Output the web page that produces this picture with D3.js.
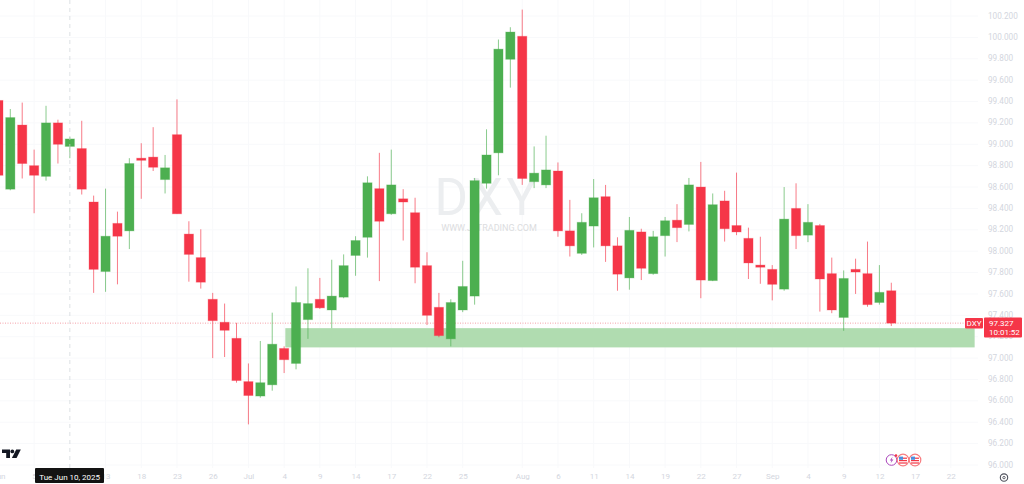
<!DOCTYPE html>
<html><head><meta charset="utf-8">
<script src="https://cdn.jsdelivr.net/npm/d3@7/dist/d3.min.js"></script>
<style>
html,body{margin:0;padding:0;background:#fff;overflow:hidden}
svg{display:block;font-family:Roboto,"Liberation Sans",sans-serif}
</style></head><body><svg id="c" width="1024" height="484"></svg>
<script>
const opens=[99.41,98.58,99.18,98.80,98.70,99.20,98.98,98.96,98.46,97.81,98.26,98.19,98.87,98.88,98.67,99.09,98.16,97.94,97.55,97.335,97.185,96.78,96.645,96.75,97.09,96.95,97.36,97.55,97.45,97.57,97.96,98.13,98.585,98.35,98.49,98.36,97.865,97.475,97.18,97.45,97.58,98.635,98.92,99.795,100.01,98.65,98.62,98.75,98.19,97.98,98.235,98.51,98.05,97.75,98.18,97.79,98.145,98.29,98.25,98.60,97.725,98.47,98.24,98.12,97.87,97.83,97.645,98.40,98.15,98.24,97.79,97.38,97.83,97.79,97.52,97.63];
const closes=[98.71,99.25,98.82,98.71,99.20,99.00,99.05,98.58,97.83,98.14,98.14,98.82,98.85,98.785,98.78,98.35,97.97,97.71,97.35,97.26,96.79,96.65,96.77,97.13,96.985,97.52,97.51,97.47,97.58,97.865,98.10,98.64,98.28,98.62,98.46,97.85,97.40,97.21,97.52,97.67,98.66,98.90,99.89,100.05,98.68,98.73,98.76,98.19,98.05,98.27,98.50,98.05,97.785,98.195,97.84,98.135,98.285,98.22,98.62,97.73,98.435,98.21,98.18,97.89,97.85,97.69,98.30,98.145,98.27,97.74,97.45,97.745,97.805,97.50,97.615,97.327];
const highs=[99.42,99.33,99.39,98.95,99.36,99.23,99.07,99.22,98.52,98.585,98.37,98.87,99.01,99.16,98.90,99.42,98.28,98.205,97.61,97.51,97.33,96.95,97.16,97.425,97.11,97.67,97.84,97.75,97.92,97.97,98.14,98.70,98.92,98.95,98.58,98.50,97.99,97.61,97.55,97.91,98.685,99.14,99.98,100.095,100.26,98.98,99.08,98.83,98.48,98.355,98.675,98.62,98.13,98.32,98.21,98.19,98.32,98.44,98.685,98.835,98.54,98.565,98.735,98.22,98.135,97.87,98.60,98.635,98.44,98.255,97.94,97.82,97.93,98.09,97.87,97.705];
const lows=[98.70,98.57,98.68,98.355,98.66,98.82,98.87,98.53,97.61,97.62,97.69,98.02,98.49,98.75,98.54,98.35,97.715,97.65,97.00,97.01,96.77,96.38,96.63,96.695,96.86,96.895,97.18,97.46,97.28,97.56,97.77,97.94,97.72,98.34,98.10,97.70,97.31,97.195,97.11,97.43,97.50,98.585,98.71,99.53,98.62,98.59,98.59,98.135,97.95,97.965,98.035,97.90,97.63,97.64,97.73,97.78,97.95,98.085,98.185,97.56,97.72,98.09,98.15,97.74,97.695,97.54,97.63,98.02,98.085,97.435,97.42,97.255,97.60,97.48,97.50,97.30];
const priceTicks=[96.0,96.2,96.4,96.6,96.8,97.0,97.2,97.4,97.6,97.8,98.0,98.2,98.4,98.6,98.8,99.0,99.2,99.4,99.6,99.8,100.0,100.2];
const timeTickIndex=[0,3,9,12,15,18,21,24,27,30,33,36,39,44,47,50,53,56,59,62,65,68,71,74,77,80];
const timeTickLabels=["Jun","5","13","18","23","26","Jul","4","9","14","17","22","25","Aug","6","11","14","19","22","27","Sep","4","9","12","17","22"];
const zoneLow=97.10, zoneHigh=97.28, zoneStartIndex=24.1, zoneEndIndex=82;
const lastPrice=97.327, countdown="10:01:52", symbol="DXY", crosshairIndex=6, crosshairLabel="Tue Jun 10, 2025";
const watermarkTitle="DXY", watermarkSub="WWW.JJTRADING.COM";

const UP="#4caf50", DOWN="#f53648", AXIS="#d3d6de";
const svg=d3.select("#c");
const y=d3.scaleLinear().domain([96,100.2]).range([465,16]);
const x=d3.scaleLinear().domain([0,75]).range([-1.6,891.3]);
const W=978;

// grid
const grid=svg.append("g").attr("stroke","#f8f9fb").attr("stroke-width",1);
grid.selectAll("line.h").data(priceTicks).join("line").attr("class","h")
 .attr("x1",0).attr("x2",W).attr("y1",d=>y(d)).attr("y2",d=>y(d));
grid.selectAll("line.v").data(timeTickIndex).join("line").attr("class","v")
 .attr("y1",0).attr("y2",468).attr("x1",d=>x(d)).attr("x2",d=>x(d));

// watermark
svg.append("text").attr("x",487.5).attr("y",215).attr("text-anchor","middle")
 .attr("font-size",51).attr("letter-spacing",3.5).attr("fill","#eceef0").attr("font-family","Roboto").text(watermarkTitle);
svg.append("text").attr("x",489).attr("y",231).attr("text-anchor","middle")
 .attr("font-size",9).attr("fill","#dcdde0").text(watermarkSub);

// zone
svg.append("rect").attr("x",x(zoneStartIndex)).attr("width",x(zoneEndIndex)-x(zoneStartIndex))
 .attr("y",y(zoneHigh)).attr("height",y(zoneLow)-y(zoneHigh)).attr("fill","#b0dcb0");

// last price line
svg.append("line").attr("x1",0).attr("x2",965).attr("y1",y(lastPrice)).attr("y2",y(lastPrice))
 .attr("stroke","#f5a0a8").attr("stroke-width",1).attr("stroke-dasharray","1 1.5");

// candles
const idx=d3.range(opens.length);
const col=i=>closes[i]>=opens[i]?UP:DOWN;
const g=svg.append("g");
g.selectAll("line.w").data(idx).join("line").attr("class","w")
 .attr("x1",i=>x(i)).attr("x2",i=>x(i)).attr("y1",i=>y(highs[i])).attr("y2",i=>y(lows[i]))
 .attr("stroke",col).attr("stroke-width",1).attr("stroke-opacity",.65);
g.selectAll("rect.b").data(idx).join("rect").attr("class","b")
 .attr("x",i=>x(i)-4.6).attr("width",9.2)
 .attr("y",i=>y(Math.max(opens[i],closes[i])))
 .attr("height",i=>Math.max(1.6,Math.abs(y(opens[i])-y(closes[i]))))
 .attr("fill",col).attr("stroke",col).attr("stroke-opacity",.3).attr("stroke-width",1);

// crosshair
svg.append("line").attr("x1",x(crosshairIndex)).attr("x2",x(crosshairIndex)).attr("y1",0).attr("y2",468)
 .attr("stroke","#cfd6da").attr("stroke-opacity",.7).attr("stroke-width",1).attr("stroke-dasharray","4 4");

// axes
const yAxis=d3.axisRight(y).tickValues(priceTicks).tickSize(0).tickPadding(0).tickFormat(d3.format(".3f"));
const yG=svg.append("g").attr("transform","translate(988,-0.8)").call(yAxis);
yG.select(".domain").remove();
yG.selectAll("text").attr("font-size",8.2).attr("fill",AXIS).attr("font-family","Roboto").attr("dy",".35em");
const xAxis=d3.axisBottom(x).tickValues(timeTickIndex).tickSize(0).tickPadding(0)
 .tickFormat(d=>timeTickLabels[timeTickIndex.indexOf(d)]);
const xG=svg.append("g").attr("transform","translate(0,473.6)").call(xAxis);
xG.select(".domain").remove();
xG.selectAll("text").attr("font-size",8).attr("fill",AXIS).attr("font-family","Roboto").attr("dy",".72em");

// last-price tags
const tags=svg.append("g").attr("font-family","Roboto").attr("font-size",8).attr("fill","#fff");
tags.append("rect").attr("x",965).attr("y",318).attr("width",18).attr("height",10.5).attr("rx",1).attr("fill",DOWN);
tags.append("rect").attr("x",984).attr("y",317.5).attr("width",38).attr("height",20).attr("rx",1).attr("fill",DOWN);
tags.append("text").attr("x",974).attr("y",326).attr("text-anchor","middle").text(symbol);
tags.append("text").attr("x",989).attr("y",326).text(d3.format(".3f")(lastPrice));
tags.append("text").attr("x",989).attr("y",335).text(countdown);

// crosshair date label
svg.append("rect").attr("x",35).attr("y",468).attr("width",69).attr("height",15).attr("rx",1).attr("fill","#131313");
svg.append("text").attr("x",69.7).attr("y",480).attr("text-anchor","middle").attr("font-size",8)
 .attr("font-family","Roboto").attr("fill","#fff").text(crosshairLabel);

// TradingView logo
const logo=svg.append("g").attr("fill","#131722");
logo.append("path").attr("d","M2 449.5H10V458H6.2V453H2Z");
logo.append("circle").attr("cx",12.3).attr("cy",451.4).attr("r",1.9);
logo.append("path").attr("d","M16.2 449.5H20.8L16.6 458H11.9Z");

// event icons
const ev=svg.append("g");
ev.append("circle").attr("cx",891.5).attr("cy",460).attr("r",5.3).attr("fill","#fff").attr("stroke","#ab47bc").attr("stroke-width",1);
ev.append("path").attr("d","M892.6 456.8L889.8 460.6H891.5L890.6 463.2L893.4 459.4H891.7Z").attr("fill","#ab47bc");
[903,915].forEach(cx=>{
 const f=ev.append("g");
 f.append("circle").attr("cx",cx).attr("cy",460).attr("r",5.8).attr("fill","#fff").attr("stroke","#f77c80").attr("stroke-width",1.2);
 [457.6,460,462.4].forEach(s=>f.append("rect").attr("x",cx-4).attr("y",s).attr("width",8).attr("height",1.2).attr("fill","#f23645"));
 f.append("rect").attr("x",cx-4).attr("y",456.6).attr("width",4).attr("height",3.2).attr("fill","#4a8fe0");
});
ev.append("circle").attr("cx",896).attr("cy",455.6).attr("r",1.3).attr("fill","#f23645");

// settings icon
const s=svg.append("g");
s.append("circle").attr("cx",1004).attr("cy",477.6).attr("r",3.7).attr("fill","none").attr("stroke","#50535e").attr("stroke-width",1.1);
s.append("circle").attr("cx",1004).attr("cy",477.6).attr("r",1.2).attr("fill","none").attr("stroke","#50535e").attr("stroke-width",.9);
</script></body></html>
